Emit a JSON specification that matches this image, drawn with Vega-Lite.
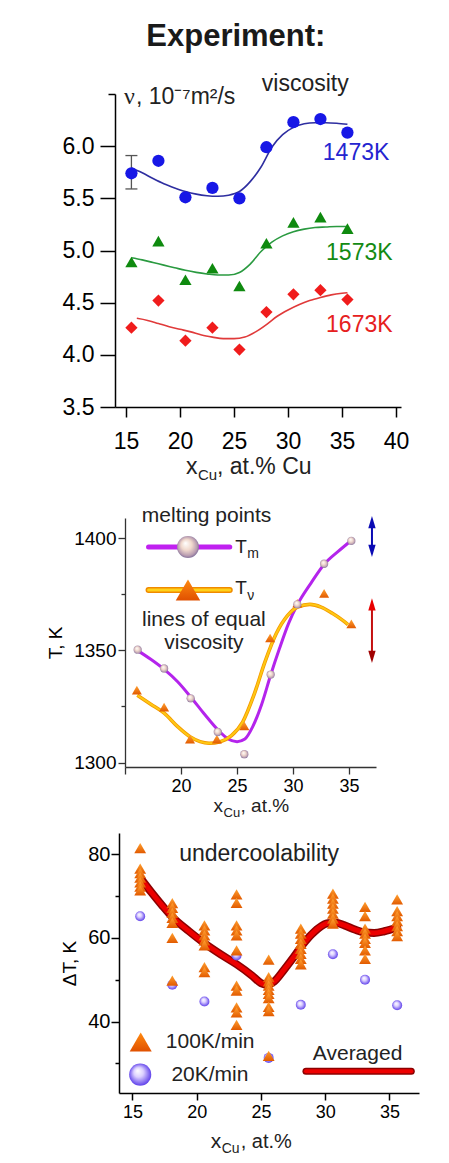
{
"$schema": "https://vega.github.io/schema/vega-lite/v6.json",
"padding": {"left": 46, "top": 20, "right": 5, "bottom": 5},
"title": {"text": "Experiment:", "fontSize": 31, "fontWeight": "bold", "font": "Liberation Sans", "color": "#1a1a1a", "anchor": "middle", "offset": 20},
"config": {"font": "Liberation Sans", "view": {"stroke": null}, "axis": {"grid": false, "labelColor": "black", "domainColor": "black", "tickColor": "black", "labelFlush": false, "labelOverlap": false, "titleFontWeight": "normal", "titleColor": "black", "titleFont": "Liberation Sans", "labelFont": "Liberation Sans"}},
"spacing": 13,
"datasets": {
"visc_pts": [
{"x":15.5,"v":5.74,"T":"1473K"},{"x":18,"v":5.86,"T":"1473K"},{"x":20.5,"v":5.51,"T":"1473K"},{"x":23,"v":5.6,"T":"1473K"},{"x":25.5,"v":5.5,"T":"1473K"},{"x":28,"v":5.99,"T":"1473K"},{"x":30.5,"v":6.23,"T":"1473K"},{"x":33,"v":6.26,"T":"1473K"},{"x":35.5,"v":6.13,"T":"1473K"},
{"x":15.5,"v":4.89,"T":"1573K"},{"x":18,"v":5.09,"T":"1573K"},{"x":20.5,"v":4.72,"T":"1573K"},{"x":23,"v":4.83,"T":"1573K"},{"x":25.5,"v":4.66,"T":"1573K"},{"x":28,"v":5.07,"T":"1573K"},{"x":30.5,"v":5.27,"T":"1573K"},{"x":33,"v":5.32,"T":"1573K"},{"x":35.5,"v":5.21,"T":"1573K"},
{"x":15.5,"v":4.26,"T":"1673K"},{"x":18,"v":4.52,"T":"1673K"},{"x":20.5,"v":4.135,"T":"1673K"},{"x":23,"v":4.26,"T":"1673K"},{"x":25.5,"v":4.05,"T":"1673K"},{"x":28,"v":4.41,"T":"1673K"},{"x":30.5,"v":4.58,"T":"1673K"},{"x":33,"v":4.62,"T":"1673K"},{"x":35.5,"v":4.53,"T":"1673K"}
],
"visc_fit": [
{"x":15.5,"v":5.79,"T":"1473K"},{"x":16.5,"v":5.745,"T":"1473K"},{"x":17.5,"v":5.69,"T":"1473K"},{"x":18.5,"v":5.64,"T":"1473K"},{"x":19.5,"v":5.6,"T":"1473K"},{"x":20.5,"v":5.565,"T":"1473K"},{"x":21.5,"v":5.54,"T":"1473K"},{"x":22.5,"v":5.525,"T":"1473K"},{"x":23.5,"v":5.52,"T":"1473K"},{"x":24.5,"v":5.53,"T":"1473K"},{"x":25.5,"v":5.565,"T":"1473K"},{"x":26.5,"v":5.66,"T":"1473K"},{"x":27.5,"v":5.8,"T":"1473K"},{"x":28.5,"v":5.99,"T":"1473K"},{"x":29.5,"v":6.11,"T":"1473K"},{"x":30.5,"v":6.18,"T":"1473K"},{"x":31.5,"v":6.215,"T":"1473K"},{"x":32.5,"v":6.225,"T":"1473K"},{"x":33.5,"v":6.225,"T":"1473K"},{"x":34.5,"v":6.22,"T":"1473K"},{"x":35.5,"v":6.21,"T":"1473K"},
{"x":15.5,"v":4.93,"T":"1573K"},{"x":16.5,"v":4.91,"T":"1573K"},{"x":17.5,"v":4.885,"T":"1573K"},{"x":18.5,"v":4.86,"T":"1573K"},{"x":19.5,"v":4.835,"T":"1573K"},{"x":20.5,"v":4.81,"T":"1573K"},{"x":21.5,"v":4.79,"T":"1573K"},{"x":22.5,"v":4.775,"T":"1573K"},{"x":23.5,"v":4.765,"T":"1573K"},{"x":24.5,"v":4.765,"T":"1573K"},{"x":25.5,"v":4.79,"T":"1573K"},{"x":26.5,"v":4.87,"T":"1573K"},{"x":27.5,"v":4.99,"T":"1573K"},{"x":28.5,"v":5.08,"T":"1573K"},{"x":29.5,"v":5.14,"T":"1573K"},{"x":30.5,"v":5.18,"T":"1573K"},{"x":31.5,"v":5.205,"T":"1573K"},{"x":32.5,"v":5.22,"T":"1573K"},{"x":33.5,"v":5.225,"T":"1573K"},{"x":34.5,"v":5.23,"T":"1573K"},{"x":35.5,"v":5.23,"T":"1573K"},
{"x":16,"v":4.35,"T":"1673K"},{"x":17,"v":4.33,"T":"1673K"},{"x":18,"v":4.3,"T":"1673K"},{"x":19,"v":4.27,"T":"1673K"},{"x":20,"v":4.245,"T":"1673K"},{"x":21,"v":4.22,"T":"1673K"},{"x":22,"v":4.19,"T":"1673K"},{"x":23,"v":4.17,"T":"1673K"},{"x":24,"v":4.155,"T":"1673K"},{"x":25,"v":4.155,"T":"1673K"},{"x":26,"v":4.17,"T":"1673K"},{"x":27,"v":4.22,"T":"1673K"},{"x":28,"v":4.29,"T":"1673K"},{"x":29,"v":4.37,"T":"1673K"},{"x":30,"v":4.43,"T":"1673K"},{"x":31,"v":4.48,"T":"1673K"},{"x":32,"v":4.52,"T":"1673K"},{"x":33,"v":4.55,"T":"1673K"},{"x":34,"v":4.575,"T":"1673K"},{"x":35,"v":4.59,"T":"1673K"},{"x":35.5,"v":4.595,"T":"1673K"}
],
"errbar": [{"x":15.5,"lo":5.59,"hi":5.91}],
"melt_pts": [
{"x":16.13,"T":1350.3,"s":"Tm"},{"x":18.49,"T":1341.9,"s":"Tm"},{"x":20.86,"T":1328.6,"s":"Tm"},{"x":23.28,"T":1313.6,"s":"Tm"},{"x":25.65,"T":1303.7,"s":"Tm"},{"x":28.0,"T":1339.2,"s":"Tm"},{"x":30.38,"T":1370.5,"s":"Tm"},{"x":32.77,"T":1388.6,"s":"Tm"},{"x":35.2,"T":1398.8,"s":"Tm"},
{"x":16.06,"T":1332.3,"s":"Tv"},{"x":18.49,"T":1324.7,"s":"Tv"},{"x":20.8,"T":1310.4,"s":"Tv"},{"x":23.2,"T":1310.4,"s":"Tv"},{"x":25.65,"T":1316.3,"s":"Tv"},{"x":27.95,"T":1355.5,"s":"Tv"},{"x":30.38,"T":1371,"s":"Tv"},{"x":32.77,"T":1375.4,"s":"Tv"},{"x":35.2,"T":1361.8,"s":"Tv"}
],
"melt_fit": [
{"x":16.1,"T":1350,"s":"Tm"},{"x":17.3,"T":1346,"s":"Tm"},{"x":18.5,"T":1341.5,"s":"Tm"},{"x":19.7,"T":1336,"s":"Tm"},{"x":20.9,"T":1329,"s":"Tm"},{"x":22.1,"T":1321.5,"s":"Tm"},{"x":23.3,"T":1314.5,"s":"Tm"},{"x":24.2,"T":1310.5,"s":"Tm"},{"x":25,"T":1309.3,"s":"Tm"},{"x":25.7,"T":1310.5,"s":"Tm"},{"x":26.4,"T":1316,"s":"Tm"},{"x":27.2,"T":1326,"s":"Tm"},{"x":28,"T":1339,"s":"Tm"},{"x":28.8,"T":1351,"s":"Tm"},{"x":29.6,"T":1362,"s":"Tm"},{"x":30.4,"T":1370.5,"s":"Tm"},{"x":31.6,"T":1380,"s":"Tm"},{"x":32.8,"T":1388.5,"s":"Tm"},{"x":34,"T":1394,"s":"Tm"},{"x":35.2,"T":1399,"s":"Tm"},
{"x":16.1,"T":1330,"s":"Tv"},{"x":17.3,"T":1326,"s":"Tv"},{"x":18.5,"T":1322,"s":"Tv"},{"x":19.7,"T":1316,"s":"Tv"},{"x":20.8,"T":1311.5,"s":"Tv"},{"x":21.7,"T":1309.3,"s":"Tv"},{"x":22.5,"T":1308.6,"s":"Tv"},{"x":23.5,"T":1309.3,"s":"Tv"},{"x":24.5,"T":1312,"s":"Tv"},{"x":25.5,"T":1318,"s":"Tv"},{"x":26.5,"T":1330,"s":"Tv"},{"x":27.5,"T":1345,"s":"Tv"},{"x":28.5,"T":1357.5,"s":"Tv"},{"x":29.5,"T":1365.5,"s":"Tv"},{"x":30.4,"T":1369.3,"s":"Tv"},{"x":31.5,"T":1370.5,"s":"Tv"},{"x":32.5,"T":1369.3,"s":"Tv"},{"x":33.5,"T":1366.5,"s":"Tv"},{"x":34.4,"T":1363.5,"s":"Tv"},{"x":34.9,"T":1361.5,"s":"Tv"}
],
"under_pts": [
{"x":15.6,"dT":81.5,"rate":"100K/min"},{"x":15.6,"dT":76.6,"rate":"100K/min"},{"x":15.6,"dT":75.5,"rate":"100K/min"},{"x":15.6,"dT":74.4,"rate":"100K/min"},{"x":15.6,"dT":73.3,"rate":"100K/min"},{"x":15.6,"dT":72.3,"rate":"100K/min"},{"x":15.6,"dT":71.4,"rate":"100K/min"},
{"x":18.1,"dT":68.3,"rate":"100K/min"},{"x":18.1,"dT":67.2,"rate":"100K/min"},{"x":18.1,"dT":66.0,"rate":"100K/min"},{"x":18.1,"dT":64.8,"rate":"100K/min"},{"x":18.1,"dT":63.6,"rate":"100K/min"},{"x":18.1,"dT":60.0,"rate":"100K/min"},{"x":18.1,"dT":49.8,"rate":"100K/min"},
{"x":20.6,"dT":63.0,"rate":"100K/min"},{"x":20.6,"dT":61.8,"rate":"100K/min"},{"x":20.6,"dT":60.6,"rate":"100K/min"},{"x":20.6,"dT":59.4,"rate":"100K/min"},{"x":20.6,"dT":58.2,"rate":"100K/min"},{"x":20.6,"dT":53.0,"rate":"100K/min"},{"x":20.6,"dT":51.8,"rate":"100K/min"},
{"x":23.1,"dT":70.4,"rate":"100K/min"},{"x":23.1,"dT":68.4,"rate":"100K/min"},{"x":23.1,"dT":63.0,"rate":"100K/min"},{"x":23.1,"dT":61.8,"rate":"100K/min"},{"x":23.1,"dT":60.6,"rate":"100K/min"},{"x":23.1,"dT":57.0,"rate":"100K/min"},{"x":23.1,"dT":48.6,"rate":"100K/min"},{"x":23.1,"dT":47.4,"rate":"100K/min"},{"x":23.1,"dT":43.4,"rate":"100K/min"},{"x":23.1,"dT":42.2,"rate":"100K/min"},{"x":23.1,"dT":39.2,"rate":"100K/min"},
{"x":25.6,"dT":54.8,"rate":"100K/min"},{"x":25.6,"dT":50.6,"rate":"100K/min"},{"x":25.6,"dT":49.6,"rate":"100K/min"},{"x":25.6,"dT":48.6,"rate":"100K/min"},{"x":25.6,"dT":47.6,"rate":"100K/min"},{"x":25.6,"dT":46.6,"rate":"100K/min"},{"x":25.6,"dT":45.6,"rate":"100K/min"},{"x":25.6,"dT":43.5,"rate":"100K/min"},{"x":25.6,"dT":42.5,"rate":"100K/min"},{"x":25.6,"dT":31.8,"rate":"100K/min"},
{"x":28.1,"dT":62.2,"rate":"100K/min"},{"x":28.1,"dT":61.0,"rate":"100K/min"},{"x":28.1,"dT":59.8,"rate":"100K/min"},{"x":28.1,"dT":58.6,"rate":"100K/min"},{"x":28.1,"dT":57.4,"rate":"100K/min"},{"x":28.1,"dT":56.2,"rate":"100K/min"},{"x":28.1,"dT":55.0,"rate":"100K/min"},{"x":28.1,"dT":53.7,"rate":"100K/min"},
{"x":30.6,"dT":70.6,"rate":"100K/min"},{"x":30.6,"dT":69.4,"rate":"100K/min"},{"x":30.6,"dT":68.2,"rate":"100K/min"},{"x":30.6,"dT":67.0,"rate":"100K/min"},{"x":30.6,"dT":65.8,"rate":"100K/min"},{"x":30.6,"dT":64.6,"rate":"100K/min"},{"x":30.6,"dT":63.4,"rate":"100K/min"},
{"x":33.1,"dT":67.4,"rate":"100K/min"},{"x":33.1,"dT":65.2,"rate":"100K/min"},{"x":33.1,"dT":62.2,"rate":"100K/min"},{"x":33.1,"dT":61.0,"rate":"100K/min"},{"x":33.1,"dT":59.8,"rate":"100K/min"},{"x":33.1,"dT":58.8,"rate":"100K/min"},{"x":33.1,"dT":57.0,"rate":"100K/min"},{"x":33.1,"dT":55.0,"rate":"100K/min"},
{"x":35.6,"dT":69.2,"rate":"100K/min"},{"x":35.6,"dT":66.4,"rate":"100K/min"},{"x":35.6,"dT":65.2,"rate":"100K/min"},{"x":35.6,"dT":64.0,"rate":"100K/min"},{"x":35.6,"dT":62.8,"rate":"100K/min"},{"x":35.6,"dT":61.6,"rate":"100K/min"},{"x":35.6,"dT":60.4,"rate":"100K/min"},
{"x":15.6,"dT":65.2,"rate":"20K/min"},{"x":18.1,"dT":48.8,"rate":"20K/min"},{"x":20.6,"dT":44.8,"rate":"20K/min"},{"x":23.1,"dT":55.8,"rate":"20K/min"},{"x":25.6,"dT":31.3,"rate":"20K/min"},{"x":28.1,"dT":44.0,"rate":"20K/min"},{"x":30.6,"dT":56.1,"rate":"20K/min"},{"x":33.1,"dT":50.0,"rate":"20K/min"},{"x":35.6,"dT":43.9,"rate":"20K/min"}
],
"under_fit": [
{"x":15.7,"dT":74},{"x":16.5,"dT":70.8},{"x":17.3,"dT":67.8},{"x":18.1,"dT":65.0},{"x":19.4,"dT":61.6},{"x":20.65,"dT":58.6},{"x":21.9,"dT":56.0},{"x":23.1,"dT":53.7},{"x":24.3,"dT":51.0},{"x":25.0,"dT":49.2},{"x":25.5,"dT":48.8},{"x":26.0,"dT":49.5},{"x":26.8,"dT":52.4},{"x":27.5,"dT":55.2},{"x":28.1,"dT":57.8},{"x":28.8,"dT":60.4},{"x":29.5,"dT":62.4},{"x":30.2,"dT":63.5},{"x":30.8,"dT":63.6},{"x":31.5,"dT":63.0},{"x":32.3,"dT":62.0},{"x":33.1,"dT":61.3},{"x":33.8,"dT":61.2},{"x":34.6,"dT":61.6},{"x":35.6,"dT":62.5}
]
},
"vconcat": [
{
"width": 276, "height": 313,
"layer": [
{"data": {"name": "visc_fit"},
 "mark": {"type": "line", "interpolate": "monotone", "strokeWidth": 1.6},
 "encoding": {
  "x": {"field": "x", "type": "quantitative", "scale": {"domain": [13.98, 40.46], "range": [-10, 276], "nice": false, "zero": false},
        "axis": {"values": [15,17.5,20,22.5,25,27.5,30,32.5,35,37.5,40], "labelExpr": "datum.value % 5 === 0 ? datum.label : ''", "tickSize": {"condition": {"test": "datum.value % 5 === 0", "value": 10}, "value": 5}, "labelFontSize": 23, "labelPadding": 13, "title": null, "domainWidth": 1.5, "tickWidth": 1.5}},
  "y": {"field": "v", "type": "quantitative", "scale": {"domain": [3.5, 6.5], "nice": false, "zero": false},
        "axis": {"offset": 10, "values": [3.5,3.75,4,4.25,4.5,4.75,5,5.25,5.5,5.75,6,6.25,6.5], "labelExpr": "(datum.value*2) % 1 === 0 && datum.value < 6.4 ? format(datum.value, '.1f') : ''", "tickSize": {"condition": {"test": "(datum.value*2) % 1 === 0 && datum.value < 6.4", "value": 15}, "value": 7}, "labelFontSize": 23, "labelPadding": 6, "title": null, "domainWidth": 1.5, "tickWidth": 1.5}},
  "stroke": {"field": "T", "type": "nominal", "scale": {"domain": ["1473K","1573K","1673K"], "range": ["#2e2ea0","#2a9a40","#e03a3a"]}, "legend": null}
 }},
{"data": {"name": "errbar"}, "mark": {"type": "rule", "color": "#555555", "strokeWidth": 1.3},
 "encoding": {"x": {"field": "x", "type": "quantitative"}, "y": {"field": "lo", "type": "quantitative"}, "y2": {"field": "hi"}}},
{"data": {"name": "errbar"}, "mark": {"type": "tick", "orient": "horizontal", "size": 12, "thickness": 1.3, "color": "#555555", "opacity": 1},
 "encoding": {"x": {"field": "x", "type": "quantitative"}, "y": {"field": "lo", "type": "quantitative"}}},
{"data": {"name": "errbar"}, "mark": {"type": "tick", "orient": "horizontal", "size": 12, "thickness": 1.3, "color": "#555555", "opacity": 1},
 "encoding": {"x": {"field": "x", "type": "quantitative"}, "y": {"field": "hi", "type": "quantitative"}}},
{"data": {"name": "visc_pts"},
 "mark": {"type": "point", "filled": true, "opacity": 1, "size": 150},
 "encoding": {
  "x": {"field": "x", "type": "quantitative"},
  "y": {"field": "v", "type": "quantitative"},
  "color": {"field": "T", "type": "nominal", "scale": {"domain": ["1473K","1573K","1673K"], "range": ["#1717e6","#0f8a0f","#f01c1c"]}, "legend": null},
  "shape": {"field": "T", "type": "nominal", "scale": {"domain": ["1473K","1573K","1673K"], "range": ["circle","triangle-up","diamond"]}, "legend": null}
 }},
{"data": {"values": [{}]}, "mark": {"type": "text", "text": "viscosity", "fontSize": 23, "color": "#222222", "align": "center", "baseline": "middle"},
 "encoding": {"x": {"datum": 31.6, "type": "quantitative"}, "y": {"datum": 6.6, "type": "quantitative"}}},
{"data": {"values": [{}]}, "mark": {"type": "text", "text": "ν", "font": "Liberation Serif", "fontSize": 24, "color": "#222222", "align": "left", "baseline": "middle"},
 "encoding": {"x": {"datum": 14.81, "type": "quantitative"}, "y": {"datum": 6.47, "type": "quantitative"}}},
{"data": {"values": [{}]}, "mark": {"type": "text", "text": ", 10⁻⁷m²/s", "fontSize": 23, "color": "#222222", "align": "left", "baseline": "middle", "dx": 12},
 "encoding": {"x": {"datum": 14.81, "type": "quantitative"}, "y": {"datum": 6.47, "type": "quantitative"}}},
{"data": {"values": [{}]}, "mark": {"type": "text", "text": "1473K", "fontSize": 23, "color": "#2525d0", "align": "center", "baseline": "middle"},
 "encoding": {"x": {"datum": 36.3, "type": "quantitative"}, "y": {"datum": 5.93, "type": "quantitative"}}},
{"data": {"values": [{}]}, "mark": {"type": "text", "text": "1573K", "fontSize": 23, "color": "#138a13", "align": "center", "baseline": "middle"},
 "encoding": {"x": {"datum": 36.6, "type": "quantitative"}, "y": {"datum": 4.972, "type": "quantitative"}}},
{"data": {"values": [{}]}, "mark": {"type": "text", "text": "1673K", "fontSize": 23, "color": "#e62020", "align": "center", "baseline": "middle"},
 "encoding": {"x": {"datum": 36.6, "type": "quantitative"}, "y": {"datum": 4.285, "type": "quantitative"}}},
{"data": {"values": [{}]}, "mark": {"type": "text", "text": "x", "fontSize": 23, "color": "#222222", "align": "left", "baseline": "alphabetic"},
 "encoding": {"x": {"datum": 20.55, "type": "quantitative"}, "y": {"datum": 2.858, "type": "quantitative"}}},
{"data": {"values": [{}]}, "mark": {"type": "text", "text": "Cu", "fontSize": 15, "color": "#222222", "align": "left", "baseline": "alphabetic", "dx": 12, "dy": 6},
 "encoding": {"x": {"datum": 20.55, "type": "quantitative"}, "y": {"datum": 2.858, "type": "quantitative"}}},
{"data": {"values": [{}]}, "mark": {"type": "text", "text": ", at.% Cu", "fontSize": 23, "color": "#222222", "align": "left", "baseline": "alphabetic", "dx": 31},
 "encoding": {"x": {"datum": 20.55, "type": "quantitative"}, "y": {"datum": 2.858, "type": "quantitative"}}},
{"data": {"values": [{}]}, "mark": {"type": "point", "filled": true, "opacity": 0, "size": 4, "color": "white"},
 "encoding": {"x": {"datum": 20, "type": "quantitative"}, "y": {"datum": 2.714, "type": "quantitative"}}}
]
},
{
"width": 251, "height": 249,
"layer": [
{"data": {"name": "melt_fit"}, "transform": [{"filter": "datum.s === 'Tm'"}],
 "mark": {"type": "line", "interpolate": "monotone", "strokeWidth": 3, "color": "#b424ec"},
 "encoding": {
  "x": {"field": "x", "type": "quantitative", "scale": {"domain": [15, 37.4], "range": [0, 251], "nice": false, "zero": false},
        "axis": {"values": [15,17.5,20,22.5,25,27.5,30,32.5,35], "labelExpr": "datum.value % 5 === 0 && datum.value > 16 ? datum.label : ''", "tickSize": {"condition": {"test": "datum.value % 5 === 0", "value": 7}, "value": 4}, "labelFontSize": 18, "labelPadding": 3, "title": null, "domainColor": "#333333", "tickColor": "#333333", "domainWidth": 1.3, "tickWidth": 1.3}},
  "y": {"field": "T", "type": "quantitative", "scale": {"domain": [1298, 1409], "nice": false, "zero": false},
        "axis": {"values": [1300,1325,1350,1375,1400], "format": "d", "labelExpr": "datum.value % 50 === 0 ? datum.label : ''", "tickSize": {"condition": {"test": "datum.value % 50 === 0", "value": 7}, "value": 4}, "labelFontSize": 19, "labelPadding": 2, "title": "T, K", "titleFontSize": 19, "titlePadding": 8, "domainColor": "#333333", "tickColor": "#333333", "domainWidth": 1.3, "tickWidth": 1.3}}
 }},
{"data": {"name": "melt_fit"}, "transform": [{"filter": "datum.s === 'Tv'"}],
 "mark": {"type": "line", "interpolate": "monotone", "strokeWidth": 3.6, "color": "#f39a00"},
 "encoding": {"x": {"field": "x", "type": "quantitative"}, "y": {"field": "T", "type": "quantitative"}}},
{"data": {"name": "melt_fit"}, "transform": [{"filter": "datum.s === 'Tv'"}],
 "mark": {"type": "line", "interpolate": "monotone", "strokeWidth": 2, "color": "#ffc814"},
 "encoding": {"x": {"field": "x", "type": "quantitative"}, "y": {"field": "T", "type": "quantitative"}}},
{"data": {"name": "melt_pts"}, "transform": [{"filter": "datum.s === 'Tv'"}],
 "mark": {"type": "point", "shape": "triangle-up", "filled": true, "opacity": 1, "size": 100, "fill": {"gradient": "linear", "x1": 0.5, "y1": 0, "x2": 0.5, "y2": 1, "stops": [{"offset": 0, "color": "#ffa030"}, {"offset": 1, "color": "#e25a00"}]}},
 "encoding": {"x": {"field": "x", "type": "quantitative"}, "y": {"field": "T", "type": "quantitative"}}},
{"data": {"name": "melt_pts"}, "transform": [{"filter": "datum.s === 'Tm'"}],
 "mark": {"type": "point", "shape": "circle", "filled": true, "opacity": 1, "size": 70, "fill": {"gradient": "radial", "x1": 0.38, "y1": 0.32, "r1": 0, "x2": 0.5, "y2": 0.5, "r2": 0.55, "stops": [{"offset": 0, "color": "#ffffff"}, {"offset": 0.45, "color": "#f0d8cc"}, {"offset": 0.8, "color": "#b89cb0"}, {"offset": 1, "color": "#6a5c90"}]}},
 "encoding": {"x": {"field": "x", "type": "quantitative"}, "y": {"field": "T", "type": "quantitative"}}},
{"data": {"values": [{}]}, "mark": {"type": "text", "text": "melting points", "fontSize": 21, "color": "#222222", "align": "center", "baseline": "middle"},
 "encoding": {"x": {"datum": 22.28, "type": "quantitative"}, "y": {"datum": 1409.9, "type": "quantitative"}}},
{"data": {"values": [{}]}, "mark": {"type": "rule", "strokeWidth": 5, "color": "#c020f0", "strokeCap": "round"},
 "encoding": {"x": {"datum": 17.1, "type": "quantitative"}, "x2": {"datum": 24.35}, "y": {"datum": 1396.1, "type": "quantitative"}}},
{"data": {"values": [{}]}, "mark": {"type": "point", "shape": "circle", "filled": true, "opacity": 1, "size": 480, "fill": {"gradient": "radial", "x1": 0.38, "y1": 0.32, "r1": 0, "x2": 0.5, "y2": 0.5, "r2": 0.55, "stops": [{"offset": 0, "color": "#ffffff"}, {"offset": 0.45, "color": "#f0d8cc"}, {"offset": 0.8, "color": "#b89cb0"}, {"offset": 1, "color": "#6a5c90"}]}},
 "encoding": {"x": {"datum": 20.62, "type": "quantitative"}, "y": {"datum": 1396.1, "type": "quantitative"}}},
{"data": {"values": [{}]}, "mark": {"type": "text", "text": "T", "fontSize": 19, "color": "#222222", "align": "left", "baseline": "middle"},
 "encoding": {"x": {"datum": 24.85, "type": "quantitative"}, "y": {"datum": 1396.1, "type": "quantitative"}}},
{"data": {"values": [{}]}, "mark": {"type": "text", "text": "m", "fontSize": 14, "color": "#222222", "align": "left", "baseline": "middle", "dx": 12, "dy": 7},
 "encoding": {"x": {"datum": 24.85, "type": "quantitative"}, "y": {"datum": 1396.1, "type": "quantitative"}}},
{"data": {"values": [{}]}, "mark": {"type": "rule", "strokeWidth": 6, "color": "#f08a00", "strokeCap": "round"},
 "encoding": {"x": {"datum": 17.1, "type": "quantitative"}, "x2": {"datum": 24.35}, "y": {"datum": 1376.9, "type": "quantitative"}}},
{"data": {"values": [{}]}, "mark": {"type": "rule", "strokeWidth": 3, "color": "#ffd21a", "strokeCap": "round"},
 "encoding": {"x": {"datum": 17.1, "type": "quantitative"}, "x2": {"datum": 24.35}, "y": {"datum": 1376.9, "type": "quantitative"}}},
{"data": {"values": [{}]}, "mark": {"type": "point", "shape": "triangle-up", "filled": true, "opacity": 1, "size": 600, "fill": {"gradient": "linear", "x1": 0.5, "y1": 0, "x2": 0.5, "y2": 1, "stops": [{"offset": 0, "color": "#ff8a10"}, {"offset": 1, "color": "#e05000"}]}},
 "encoding": {"x": {"datum": 20.62, "type": "quantitative"}, "y": {"datum": 1376.9, "type": "quantitative"}}},
{"data": {"values": [{}]}, "mark": {"type": "text", "text": "T", "fontSize": 19, "color": "#222222", "align": "left", "baseline": "middle"},
 "encoding": {"x": {"datum": 24.85, "type": "quantitative"}, "y": {"datum": 1378, "type": "quantitative"}}},
{"data": {"values": [{}]}, "mark": {"type": "text", "text": "ν", "fontSize": 14, "color": "#222222", "align": "left", "baseline": "middle", "dx": 12, "dy": 8},
 "encoding": {"x": {"datum": 24.85, "type": "quantitative"}, "y": {"datum": 1378, "type": "quantitative"}}},
{"data": {"values": [{}]}, "mark": {"type": "text", "text": "lines of equal", "fontSize": 21, "color": "#222222", "align": "center", "baseline": "middle"},
 "encoding": {"x": {"datum": 22.04, "type": "quantitative"}, "y": {"datum": 1363.6, "type": "quantitative"}}},
{"data": {"values": [{}]}, "mark": {"type": "text", "text": "viscosity", "fontSize": 21, "color": "#222222", "align": "center", "baseline": "middle"},
 "encoding": {"x": {"datum": 22.04, "type": "quantitative"}, "y": {"datum": 1353.5, "type": "quantitative"}}},
{"data": {"values": [{}]}, "mark": {"type": "rule", "strokeWidth": 2, "color": "#0a0ab4"},
 "encoding": {"x": {"datum": 37.04, "type": "quantitative"}, "y": {"datum": 1394.4, "type": "quantitative"}, "y2": {"datum": 1407.2}}},
{"data": {"values": [{}]}, "mark": {"type": "point", "shape": "M0,-1L0.6,1L-0.6,1Z", "filled": true, "opacity": 1, "size": 150, "color": "#0a0ab4"},
 "encoding": {"x": {"datum": 37.04, "type": "quantitative"}, "y": {"datum": 1407.2, "type": "quantitative"}}},
{"data": {"values": [{}]}, "mark": {"type": "point", "shape": "M0,1L0.6,-1L-0.6,-1Z", "filled": true, "opacity": 1, "size": 150, "color": "#0a0ab4"},
 "encoding": {"x": {"datum": 37.04, "type": "quantitative"}, "y": {"datum": 1394.4, "type": "quantitative"}}},
{"data": {"values": [{}]}, "mark": {"type": "rule", "strokeWidth": 2, "color": "#c41010"},
 "encoding": {"x": {"datum": 37.04, "type": "quantitative"}, "y": {"datum": 1347.1, "type": "quantitative"}, "y2": {"datum": 1370.5}}},
{"data": {"values": [{}]}, "mark": {"type": "point", "shape": "M0,-1L0.6,1L-0.6,1Z", "filled": true, "opacity": 1, "size": 150, "color": "#e80000"},
 "encoding": {"x": {"datum": 37.04, "type": "quantitative"}, "y": {"datum": 1370.5, "type": "quantitative"}}},
{"data": {"values": [{}]}, "mark": {"type": "point", "shape": "M0,1L0.6,-1L-0.6,-1Z", "filled": true, "opacity": 1, "size": 150, "color": "#a00000"},
 "encoding": {"x": {"datum": 37.04, "type": "quantitative"}, "y": {"datum": 1347.1, "type": "quantitative"}}},
{"data": {"values": [{}]}, "mark": {"type": "text", "text": "x", "fontSize": 19, "color": "#222222", "align": "left", "baseline": "alphabetic"},
 "encoding": {"x": {"datum": 22.9, "type": "quantitative"}, "y": {"datum": 1278.1, "type": "quantitative"}}},
{"data": {"values": [{}]}, "mark": {"type": "text", "text": "Cu", "fontSize": 13, "color": "#222222", "align": "left", "baseline": "alphabetic", "dx": 10, "dy": 5},
 "encoding": {"x": {"datum": 22.9, "type": "quantitative"}, "y": {"datum": 1278.1, "type": "quantitative"}}},
{"data": {"values": [{}]}, "mark": {"type": "text", "text": ", at.%", "fontSize": 19, "color": "#222222", "align": "left", "baseline": "alphabetic", "dx": 27},
 "encoding": {"x": {"datum": 22.9, "type": "quantitative"}, "y": {"datum": 1278.1, "type": "quantitative"}}}
]
},
{
"width": 294, "height": 260,
"layer": [
{"data": {"name": "under_fit"},
 "mark": {"type": "line", "interpolate": "monotone", "strokeWidth": 8, "color": "#8c0000", "strokeCap": "round"},
 "encoding": {
  "x": {"field": "x", "type": "quantitative", "scale": {"domain": [13.95, 37.3], "range": [-6, 294], "nice": false, "zero": false},
        "axis": {"values": [15,17.5,20,22.5,25,27.5,30,32.5,35], "labelExpr": "datum.value % 5 === 0 ? datum.label : ''", "tickSize": {"condition": {"test": "datum.value % 5 === 0", "value": 7}, "value": 4}, "labelFontSize": 18, "labelPadding": 3, "title": null, "domainWidth": 1.5, "tickWidth": 1.5}},
  "y": {"field": "dT", "type": "quantitative", "scale": {"domain": [22.9, 85.1], "nice": false, "zero": false},
        "axis": {"offset": 6, "values": [30,40,50,60,70,80], "labelExpr": "datum.value % 20 === 0 ? datum.label : ''", "tickSize": {"condition": {"test": "datum.value % 20 === 0", "value": 8}, "value": 4}, "labelFontSize": 20, "labelPadding": 1, "title": "ΔT, K", "titleFontSize": 19, "titlePadding": 8, "domainWidth": 1.5, "tickWidth": 1.5}}
 }},
{"data": {"name": "under_fit"},
 "mark": {"type": "line", "interpolate": "monotone", "strokeWidth": 5, "color": "#ec0000", "strokeCap": "round"},
 "encoding": {"x": {"field": "x", "type": "quantitative"}, "y": {"field": "dT", "type": "quantitative"}}},
{"data": {"name": "under_pts"}, "transform": [{"filter": "datum.rate === '20K/min'"}],
 "mark": {"type": "point", "shape": "circle", "filled": true, "opacity": 1, "size": 100, "fill": {"gradient": "radial", "x1": 0.38, "y1": 0.32, "r1": 0, "x2": 0.5, "y2": 0.5, "r2": 0.55, "stops": [{"offset": 0, "color": "#ffffff"}, {"offset": 0.4, "color": "#dcd0ff"}, {"offset": 1, "color": "#5030e8"}]}},
 "encoding": {"x": {"field": "x", "type": "quantitative"}, "y": {"field": "dT", "type": "quantitative"}}},
{"data": {"name": "under_pts"}, "transform": [{"filter": "datum.rate === '100K/min'"}],
 "mark": {"type": "point", "shape": "triangle-up", "filled": true, "opacity": 1, "size": 140, "fill": {"gradient": "linear", "x1": 0.5, "y1": 0, "x2": 0.5, "y2": 1, "stops": [{"offset": 0, "color": "#ffa030"}, {"offset": 1, "color": "#e25a00"}]}},
 "encoding": {"x": {"field": "x", "type": "quantitative"}, "y": {"field": "dT", "type": "quantitative"}}},
{"data": {"values": [{}]}, "mark": {"type": "text", "text": "undercoolability", "fontSize": 23, "color": "#222222", "align": "center", "baseline": "middle"},
 "encoding": {"x": {"datum": 24.85, "type": "quantitative"}, "y": {"datum": 80, "type": "quantitative"}}},
{"data": {"values": [{}]}, "mark": {"type": "point", "shape": "triangle-up", "filled": true, "opacity": 1, "size": 484, "fill": {"gradient": "linear", "x1": 0.5, "y1": 0, "x2": 0.5, "y2": 1, "stops": [{"offset": 0, "color": "#ff8a10"}, {"offset": 1, "color": "#e05000"}]}},
 "encoding": {"x": {"datum": 15.64, "type": "quantitative"}, "y": {"datum": 35.1, "type": "quantitative"}}},
{"data": {"values": [{}]}, "mark": {"type": "point", "shape": "circle", "filled": true, "opacity": 1, "size": 490, "fill": {"gradient": "radial", "x1": 0.38, "y1": 0.32, "r1": 0, "x2": 0.5, "y2": 0.5, "r2": 0.55, "stops": [{"offset": 0, "color": "#ffffff"}, {"offset": 0.4, "color": "#dcd0ff"}, {"offset": 1, "color": "#5030e8"}]}},
 "encoding": {"x": {"datum": 15.6, "type": "quantitative"}, "y": {"datum": 27.3, "type": "quantitative"}}},
{"data": {"values": [{}]}, "mark": {"type": "text", "text": "100K/min", "fontSize": 21, "color": "#222222", "align": "left", "baseline": "middle"},
 "encoding": {"x": {"datum": 17.59, "type": "quantitative"}, "y": {"datum": 35.1, "type": "quantitative"}}},
{"data": {"values": [{}]}, "mark": {"type": "text", "text": "20K/min", "fontSize": 21, "color": "#222222", "align": "left", "baseline": "middle"},
 "encoding": {"x": {"datum": 18.03, "type": "quantitative"}, "y": {"datum": 27.3, "type": "quantitative"}}},
{"data": {"values": [{}]}, "mark": {"type": "text", "text": "Averaged", "fontSize": 21, "color": "#222222", "align": "center", "baseline": "middle"},
 "encoding": {"x": {"datum": 32.52, "type": "quantitative"}, "y": {"datum": 32.15, "type": "quantitative"}}},
{"data": {"values": [{}]}, "mark": {"type": "rule", "strokeWidth": 7, "color": "#8c0000", "strokeCap": "round"},
 "encoding": {"x": {"datum": 28.5, "type": "quantitative"}, "x2": {"datum": 36.7}, "y": {"datum": 28.1, "type": "quantitative"}}},
{"data": {"values": [{}]}, "mark": {"type": "rule", "strokeWidth": 4, "color": "#ee0000", "strokeCap": "round"},
 "encoding": {"x": {"datum": 28.5, "type": "quantitative"}, "x2": {"datum": 36.7}, "y": {"datum": 28.1, "type": "quantitative"}}},
{"data": {"values": [{}]}, "mark": {"type": "text", "text": "x", "fontSize": 21, "color": "#222222", "align": "left", "baseline": "alphabetic"},
 "encoding": {"x": {"datum": 21.09, "type": "quantitative"}, "y": {"datum": 9.67, "type": "quantitative"}}},
{"data": {"values": [{}]}, "mark": {"type": "text", "text": "Cu", "fontSize": 14, "color": "#222222", "align": "left", "baseline": "alphabetic", "dx": 11, "dy": 5},
 "encoding": {"x": {"datum": 21.09, "type": "quantitative"}, "y": {"datum": 9.67, "type": "quantitative"}}},
{"data": {"values": [{}]}, "mark": {"type": "text", "text": ", at.%", "fontSize": 20, "color": "#222222", "align": "left", "baseline": "alphabetic", "dx": 30},
 "encoding": {"x": {"datum": 21.09, "type": "quantitative"}, "y": {"datum": 9.67, "type": "quantitative"}}}
]
}
]
}
